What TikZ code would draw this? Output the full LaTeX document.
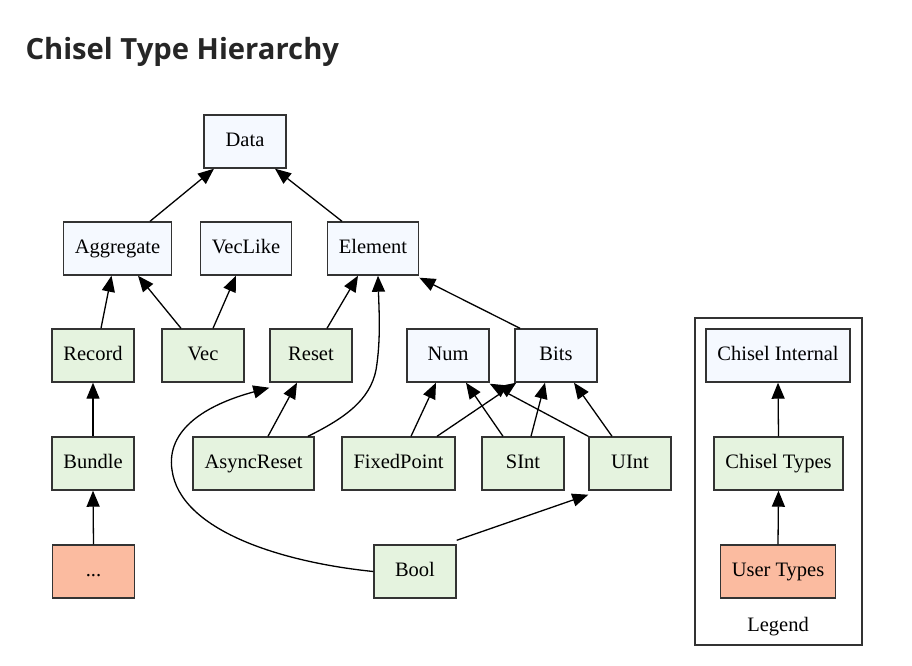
\documentclass[tikz,border=0pt]{standalone}
\usepackage{fontspec}
\setmainfont{Liberation Serif}
\newfontfamily\titlefont{Open Sans}
\usetikzlibrary{arrows.meta}
\definecolor{internalfill}{HTML}{F5F9FF}
\definecolor{chiselfill}{HTML}{E5F3DF}
\definecolor{userfill}{HTML}{FBBBA0}
\definecolor{boxline}{HTML}{333333}
\begin{document}
\begin{tikzpicture}[x=1pt,y=-1pt,>={Triangle[length=16pt,width=13pt]},
  box/.style={draw=boxline,line width=1.4pt,minimum width=82pt,minimum height=53pt,
    inner xsep=11.5pt,text height=14pt,text depth=4.5pt,
    font=\fontsize{20.5}{24}\selectfont},
  internal/.style={box,fill=internalfill},
  chisel/.style={box,fill=chiselfill},
  user/.style={box,fill=userfill},
  arr/.style={->,line width=1.3pt}]
  \useasboundingbox (0,0) rectangle (912,665);
  \node[anchor=base west,text=black!85,font=\titlefont\bfseries\fontsize{29.2}{34}\selectfont] (title) at (22,59) {Chisel Type Hierarchy};

  \node[internal] (data) at (245,141.5) {Data};
  \node[internal] (agg) at (117.5,248.5) {Aggregate};
  \node[internal] (veclike) at (246,248.5) {VecLike};
  \node[internal] (element) at (373,248.5) {Element};
  \node[chisel] (record) at (93,355.5) {Record};
  \node[chisel] (vec) at (203,355.5) {Vec};
  \node[chisel] (reset) at (311,355.5) {Reset};
  \node[internal] (num) at (448,355.5) {Num};
  \node[internal] (bits) at (556,355.5) {Bits};
  \node[chisel] (bundle) at (93,463.5) {Bundle};
  \node[chisel] (async) at (253.5,463.5) {AsyncReset};
  \node[chisel] (fixed) at (398.5,463.5) {FixedPoint};
  \node[chisel] (sint) at (523,463.5) {SInt};
  \node[chisel] (uint) at (630,463.5) {UInt};
  \node[user] (dots) at (93.5,571.5) {...};
  \node[chisel] (bool) at (415,571.5) {Bool};

  \draw[arr] ([xshift=32.5]agg.north) -- ([xshift=-31]data.south);
  \draw[arr] ([xshift=-31]element.north) -- ([xshift=30]data.south);
  \draw[arr] ([xshift=8]record.north) -- ([xshift=-6]agg.south);
  \draw[arr] ([xshift=-22]vec.north) -- ([xshift=20.5]agg.south);
  \draw[arr] ([xshift=10]vec.north) -- ([xshift=-10]veclike.south);
  \draw[arr] ([xshift=16]reset.north) -- ([xshift=-15]element.south);
  \draw[arr] ([xshift=54.5]async.north) .. controls (345,418) and (370,400) .. (376,370)
    .. controls (381,340) and (379,310) .. ([xshift=5]element.south);
  \draw[arr] ([xshift=-36]bits.north) -- ([yshift=-2]element.south east);
  \draw[arr] ([xshift=14.5]async.north) -- ([xshift=-14]reset.south);
  \draw[arr] (bool.west) .. controls (280,562) and (180,530) .. (172,470)
    .. controls (166,430) and (205,405) .. ([yshift=-5]reset.south west);
  \draw[arr] ([xshift=12.5]fixed.north) -- ([xshift=-12]num.south);
  \draw[arr] ([xshift=38.5]fixed.north) -- ([xshift=2]bits.south west);
  \draw[arr] ([xshift=-20]sint.north) -- ([xshift=18]num.south);
  \draw[arr] ([xshift=8]sint.north) -- ([xshift=-11]bits.south);
  \draw[arr] (uint.north west) -- ([yshift=-1]num.south east);
  \draw[arr] ([xshift=-18]uint.north) -- ([xshift=18]bits.south);
  \draw[arr] ([yshift=4]bool.north east) -- ([yshift=-4]uint.south west);
  \draw[arr] (bundle.north) -- (record.south);
  \draw[arr] (dots.north) -- (bundle.south);

  \draw[draw=boxline,line width=1.4pt] (695,318) rectangle (862,645);
  \node[internal] (lint) at (778,355.5) {Chisel Internal};
  \node[chisel] (ltypes) at (778.5,463.5) {Chisel Types};
  \node[user] (luser) at (778,571.5) {User Types};
  \node[font=\fontsize{20.5}{24}\selectfont] (legend) at (778,627) {Legend};
  \draw[arr] (ltypes.north) -- (lint.south);
  \draw[arr] (luser.north) -- (ltypes.south);
\end{tikzpicture}
\end{document}
